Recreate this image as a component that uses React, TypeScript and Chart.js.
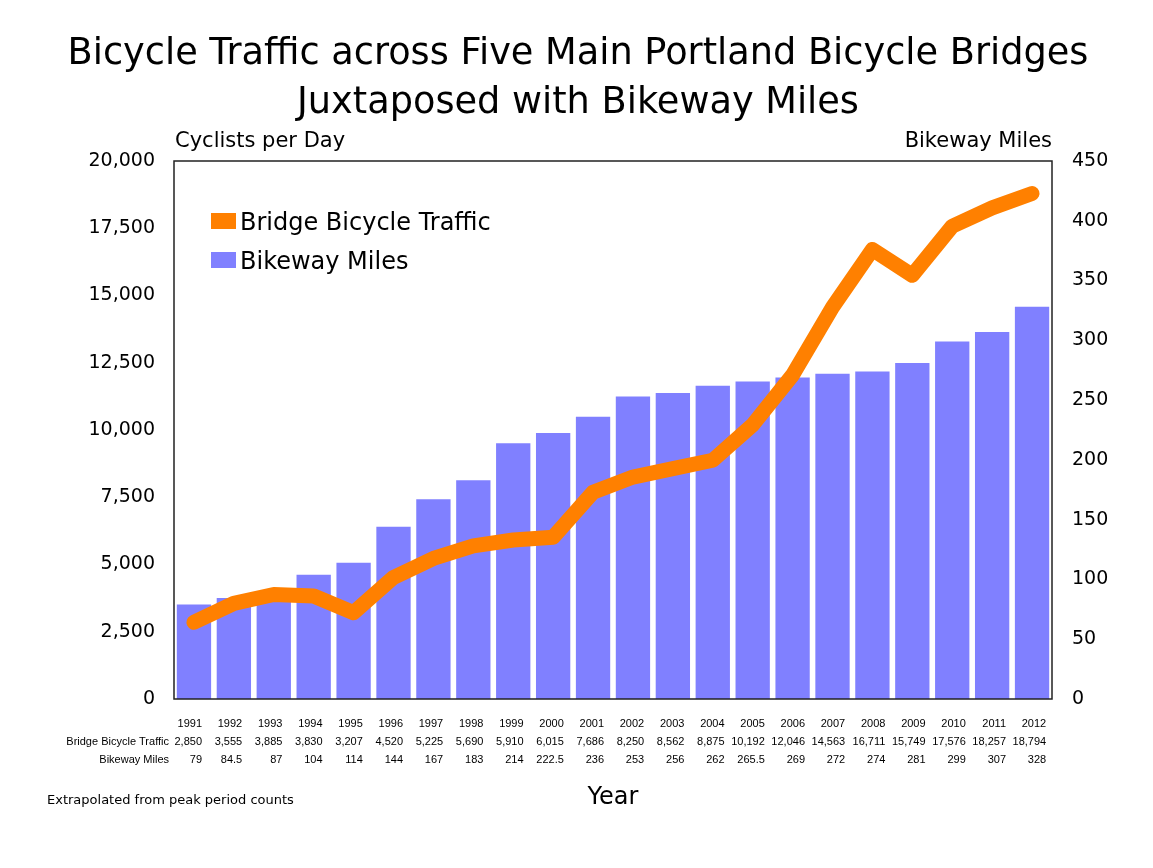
import { useEffect, useRef } from "react"
import { Chart, registerables, type ChartConfiguration, type Plugin } from "chart.js"

Chart.register(...registerables)

const years = ["1991", "1992", "1993", "1994", "1995", "1996", "1997", "1998", "1999", "2000", "2001",
  "2002", "2003", "2004", "2005", "2006", "2007", "2008", "2009", "2010", "2011", "2012"]
const bridgeTraffic = [2850, 3555, 3885, 3830, 3207, 4520, 5225, 5690, 5910, 6015, 7686,
  8250, 8562, 8875, 10192, 12046, 14563, 16711, 15749, 17576, 18257, 18794]
const bikewayMiles = [79, 84.5, 87, 104, 114, 144, 167, 183, 214, 222.5, 236,
  253, 256, 262, 265.5, 269, 272, 274, 281, 299, 307, 328]

const TITLE_LINES = ["Bicycle Traffic across Five Main Portland Bicycle Bridges", "Juxtaposed with Bikeway Miles"]
const ORANGE = "#ff8000"
const PURPLE = "#8080ff"
const SANS = "'DejaVu Sans', Verdana, sans-serif"
const SMALL = "'Liberation Sans', Arial, sans-serif"

const fmt = (v: number) => (Number.isInteger(v) ? v.toLocaleString("en-US") : String(v))

// titles, inside legend, data table and notes
const decorations: Plugin = {
  id: "decorations",
  afterDraw(chart) {
    const { ctx, chartArea } = chart
    ctx.save()

    // frame round the plot area
    ctx.strokeStyle = "#222"
    ctx.lineWidth = 1.5
    ctx.strokeRect(chartArea.left, chartArea.top, chartArea.right - chartArea.left, chartArea.bottom - chartArea.top)

    ctx.fillStyle = "#000"
    ctx.textBaseline = "alphabetic"
    ctx.textAlign = "center"
    ctx.font = `36.7px ${SANS}`
    ctx.fillText(TITLE_LINES[0], 578, 64)
    ctx.fillText(TITLE_LINES[1], 578, 113)

    ctx.font = `21px ${SANS}`
    ctx.textAlign = "left"
    ctx.fillText("Cyclists per Day", chartArea.left + 1, 147)
    ctx.textAlign = "right"
    ctx.fillText("Bikeway Miles", chartArea.right, 147)

    // legend
    const legend = [
      { label: "Bridge Bicycle Traffic", color: ORANGE, y: 230 },
      { label: "Bikeway Miles", color: PURPLE, y: 269 },
    ]
    ctx.font = `24px ${SANS}`
    ctx.textAlign = "left"
    legend.forEach((item) => {
      ctx.fillStyle = item.color
      ctx.fillRect(211, item.y - 17, 25, 16)
      ctx.fillStyle = "#000"
      ctx.fillText(item.label, 240, item.y)
    })

    // data table
    ctx.font = `11px ${SMALL}`
    ctx.textAlign = "right"
    ctx.fillText("Bridge Bicycle Traffic", 169, 745)
    ctx.fillText("Bikeway Miles", 169, 763)
    years.forEach((yr, i) => {
      const x = 202 + i * 40.2
      ctx.fillText(yr, x, 727)
      ctx.fillText(fmt(bridgeTraffic[i]), x, 745)
      ctx.fillText(fmt(bikewayMiles[i]), x, 763)
    })

    ctx.textAlign = "left"
    ctx.font = `13px ${SANS}`
    ctx.fillText("Extrapolated from peak period counts", 47, 804)

    ctx.textAlign = "center"
    ctx.font = `24px ${SANS}`
    ctx.fillText("Year", 613, 804)

    ctx.restore()
  },
}

export default function App() {
  const canvasRef = useRef<HTMLCanvasElement>(null)
  const chartInstance = useRef<Chart | null>(null)

  useEffect(() => {
    if (!canvasRef.current) return
    if (chartInstance.current) chartInstance.current.destroy()

    const config: ChartConfiguration = {
      type: "bar",
      data: {
        labels: years,
        datasets: [
          {
            type: "line",
            label: "Bridge Bicycle Traffic",
            data: bridgeTraffic,
            yAxisID: "y",
            borderColor: ORANGE,
            backgroundColor: ORANGE,
            borderWidth: 15,
            borderCapStyle: "round",
            borderJoinStyle: "round",
            pointRadius: 0,
            tension: 0,
            order: 0,
          },
          {
            type: "bar",
            label: "Bikeway Miles",
            data: bikewayMiles,
            yAxisID: "y1",
            backgroundColor: PURPLE,
            barPercentage: 0.86,
            categoryPercentage: 1,
            order: 1,
          },
        ],
      },
      options: {
        responsive: false,
        animation: false,
        layout: { padding: { top: 161, bottom: 169, left: 0, right: 0 } },
        plugins: {
          legend: { display: false },
          title: { display: false },
          tooltip: { enabled: false },
        },
        scales: {
          x: { display: false },
          y: {
            position: "left",
            min: 0,
            max: 20000,
            grid: { display: false, drawTicks: false },
            border: { display: false },
            afterFit: (scale) => {
              scale.width = 174
            },
            ticks: {
              stepSize: 2500,
              padding: 19,
              color: "#000",
              font: { family: SANS, size: 19 },
              callback: (v) => Number(v).toLocaleString("en-US"),
            },
          },
          y1: {
            position: "right",
            min: 0,
            max: 450,
            grid: { display: false, drawTicks: false },
            border: { display: false },
            afterFit: (scale) => {
              scale.width = 101
            },
            ticks: {
              stepSize: 50,
              padding: 20,
              color: "#000",
              font: { family: SANS, size: 19 },
            },
          },
        },
      },
      plugins: [decorations],
    }

    chartInstance.current = new Chart(canvasRef.current, config)
    return () => {
      if (chartInstance.current) {
        chartInstance.current.destroy()
        chartInstance.current = null
      }
    }
  }, [])

  return (
    <div style={{ position: "absolute", left: 0, top: 0, width: 1153, height: 868, background: "#fff" }}>
      <canvas ref={canvasRef} width={1153} height={868} />
    </div>
  )
}
